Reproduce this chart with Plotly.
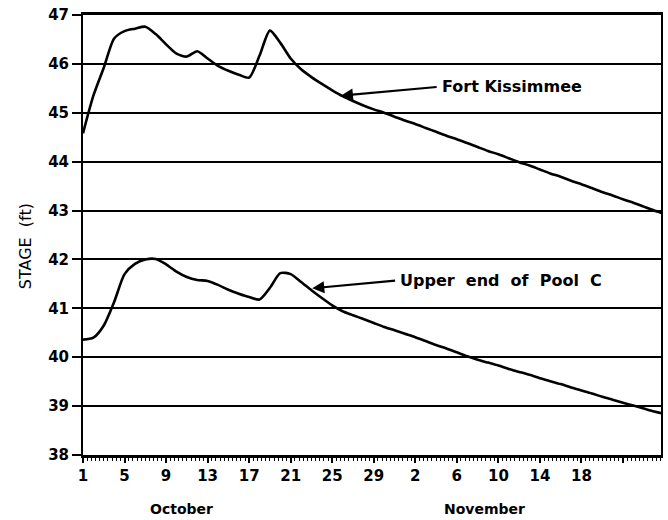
import plotly.graph_objects as go

# Day number counted from October 1 (Oct 1 = 1, Nov 1 = 32)
days = list(range(1, 58))

# Daily stage (ft) at Fort Kissimmee
fort_kissimmee = [
    44.58, 45.35, 45.92, 46.52, 46.67, 46.72, 46.76, 46.61, 46.40, 46.21,
    46.15, 46.26, 46.11, 45.96, 45.86, 45.78, 45.72, 46.17, 46.68, 46.43,
    46.11, 45.89, 45.73, 45.59, 45.46, 45.34, 45.24, 45.15, 45.07, 45.00,
    44.92, 44.84, 44.77, 44.69, 44.61, 44.53, 44.46, 44.38, 44.30, 44.22,
    44.15, 44.07, 43.99, 43.92, 43.84, 43.76, 43.69, 43.61, 43.54, 43.46,
    43.38, 43.31, 43.23, 43.16, 43.08, 43.00, 42.93,
]

# Daily stage (ft) at the upper end of Pool C
pool_c = [
    40.36, 40.40, 40.65, 41.13, 41.70, 41.91, 42.00, 42.01, 41.90, 41.75,
    41.64, 41.58, 41.56, 41.48, 41.38, 41.30, 41.23, 41.18, 41.42, 41.72,
    41.70, 41.54, 41.37, 41.21, 41.06, 40.94, 40.86, 40.78, 40.70, 40.62,
    40.55, 40.48, 40.41, 40.33, 40.25, 40.18, 40.10, 40.02, 39.95, 39.89,
    39.83, 39.76, 39.70, 39.64, 39.57, 39.51, 39.45, 39.38, 39.32, 39.26,
    39.19, 39.13, 39.07, 39.01, 38.95, 38.89, 38.84,
]

tick_days = [1, 5, 9, 13, 17, 21, 25, 29, 33, 37, 41, 45, 49, 53]
tick_text = ["1", "5", "9", "13", "17", "21", "25", "29", "2", "6", "10", "14", "18", ""]

FONT = "DejaVu Sans"
INK = "black"

fig = go.Figure()
for series in (fort_kissimmee, pool_c):
    fig.add_trace(go.Scatter(
        x=days, y=series, mode="lines",
        line=dict(color=INK, width=2.6, shape="spline", smoothing=0.7),
        showlegend=False, hoverinfo="skip",
    ))

# Station labels with pointer arrows
labels = [
    # text, text x, text y, arrow tip x, tip y, tail x, tail y
    ("Fort Kissimmee", 35.4, 45.53, 25.83, 45.35, 35.2, 45.53),
    ("Upper\u00a0 end\u00a0 of\u00a0 Pool\u00a0 C", 31.35, 41.56, 23.07, 41.41, 31.2, 41.57),
]
for text, tx, ty, hx, hy, ax, ay in labels:
    fig.add_annotation(
        x=tx, y=ty, xref="x", yref="y", text=text, showarrow=False,
        xanchor="left", yanchor="middle",
        font=dict(family=FONT, size=16, color=INK, weight="bold"),
    )
    fig.add_annotation(
        x=hx, y=hy, ax=ax, ay=ay, xref="x", yref="y", axref="x", ayref="y",
        text="", showarrow=True, arrowhead=2, arrowsize=1.1,
        arrowwidth=2.2, arrowcolor=INK,
    )

# Month names under the day ticks
for name, xm in (("October", 10.5), ("November", 39.7)):
    fig.add_annotation(
        x=xm, y=-0.122, xref="x", yref="paper", text=name, showarrow=False,
        xanchor="center", yanchor="middle",
        font=dict(family=FONT, size=14, color=INK, weight="bold"),
    )

fig.add_annotation(
    x=-0.1, y=0.475, xref="paper", yref="paper", text="STAGE\u00a0 (ft)",
    showarrow=False, textangle=-90, xanchor="center", yanchor="middle",
    font=dict(family=FONT, size=16, color=INK),
)

fig.update_layout(
    width=668, height=520,
    margin=dict(l=83, r=5, t=15, b=65),
    paper_bgcolor="white", plot_bgcolor="white",
    font=dict(family=FONT, color=INK),
    xaxis=dict(
        range=[1, 56.66], tickmode="array", tickvals=tick_days, ticktext=tick_text,
        ticks="outside", ticklen=5, tickwidth=1.5, tickcolor=INK,
        minor=dict(ticks="outside", ticklen=3, tickwidth=1, tickcolor=INK,
                   tick0=1, dtick=0.4),
        showgrid=False, zeroline=False,
        showline=True, linecolor=INK, linewidth=2.5, mirror=True,
        tickfont=dict(family=FONT, size=15, color=INK, weight="bold"),
    ),
    yaxis=dict(
        range=[38, 47], tick0=38, dtick=1,
        ticks="outside", ticklen=9, tickwidth=2, tickcolor=INK,
        showgrid=True, gridcolor=INK, gridwidth=2, zeroline=False,
        showline=True, linecolor=INK, linewidth=2, mirror=True,
        tickfont=dict(family=FONT, size=15, color=INK, weight="bold"),
    ),
)

fig.write_html("out.html")
